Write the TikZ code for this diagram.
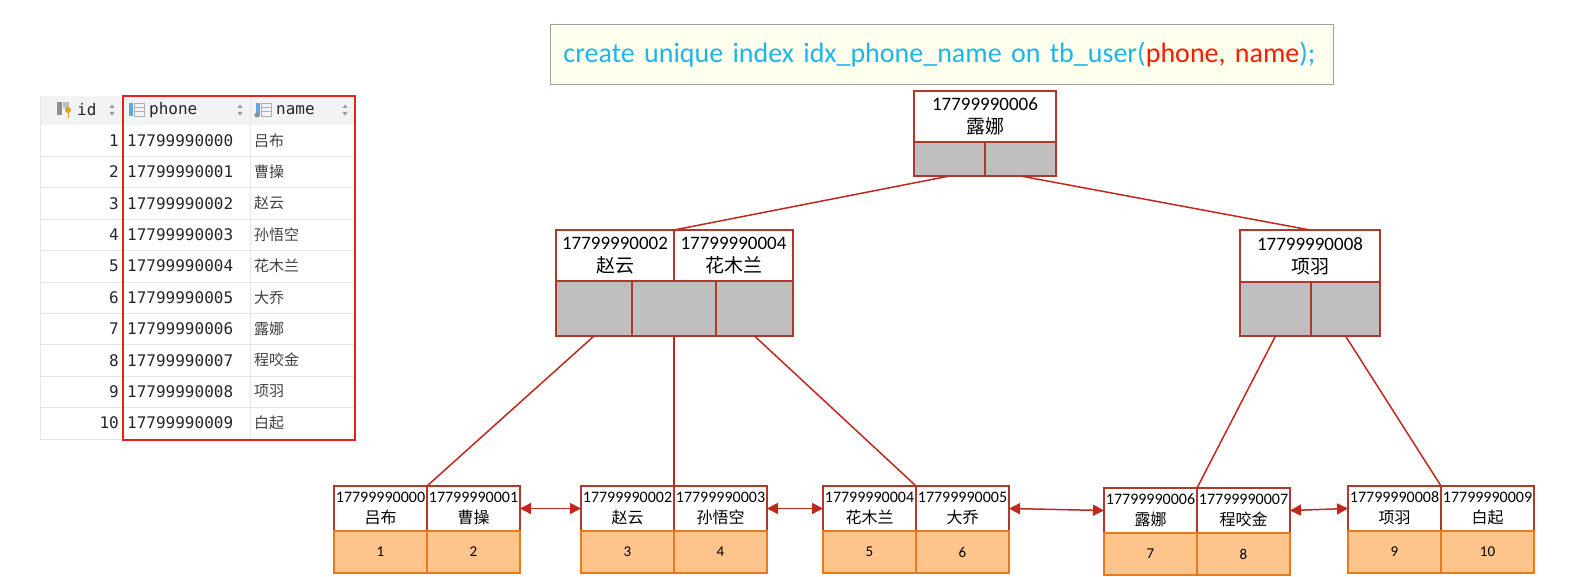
\documentclass[tikz,border=0pt]{standalone}
\usepackage{fontspec}
\setmainfont{Carlito}
\newfontfamily\cjk{Noto Sans CJK SC}
\newfontfamily\mono{DejaVu Sans Mono}
\usepackage{tikz}
\usetikzlibrary{arrows.meta, calc, positioning}

\definecolor{nodered}{HTML}{B0392E}
\definecolor{linkred}{HTML}{C0281E}
\definecolor{ptrgray}{HTML}{BFBFBF}
\definecolor{leaffill}{HTML}{FFC48C}
\definecolor{leafline}{HTML}{E97A1A}
\definecolor{sqlblue}{HTML}{1EB4EC}
\definecolor{sqlred}{HTML}{FF1A00}
\definecolor{sqlfill}{HTML}{FFFFEE}
\definecolor{sqlline}{HTML}{A0A0A0}
\definecolor{tabred}{HTML}{E8221B}
\definecolor{tabhead}{HTML}{F2F3F5}
\definecolor{tabline}{HTML}{E6E6E6}
\definecolor{iconblue}{HTML}{5AA9E0}
\definecolor{icongray}{HTML}{8A8F96}
\definecolor{iconkey}{HTML}{E0A020}

\begin{document}
\begin{tikzpicture}[x=1pt, y=-1pt,
	cell/.style={line width=1.6pt, inner sep=0pt, outer sep=0pt, align=center},
	keycell/.style={cell, draw=nodered, fill=white, minimum width=93, minimum height=45,
		font=\fontsize{16}{21}\selectfont},
	valcell/.style={cell, draw=leafline, fill=leaffill, minimum width=93, minimum height=42,
		font=\fontsize{15}{16}\selectfont},
	bigkey/.style={cell, draw=nodered, fill=white, minimum height=51,
		font=\fontsize{19}{23}\selectfont},
	ptrcell/.style={cell, draw=nodered, fill=ptrgray},
	link/.style={draw=linkred, line width=1.5pt},
	dlink/.style={link, {Triangle[length=11pt,width=11pt]}-{Triangle[length=11pt,width=11pt]}},
	rowline/.style={draw=tabline, line width=0.8pt},
	tabtext/.style={inner sep=0pt, font=\mono\fontsize{16}{18}\selectfont, text=black!85},
	sorttip/.style={fill=black!40}]
	\useasboundingbox (0,0) rectangle (1573,577);

	% table
	\fill[tabhead] (40,96) rectangle (355,125);
	\foreach \r in {1,...,9}
		\draw[rowline] (40,125+31.4*\r) -- (355,125+31.4*\r);
	\draw[rowline] (40,96) -- (40,439) -- (355,439);
	\draw[rowline] (250,96) -- (250,439);
	\fill[icongray] (57,102) rectangle (62,115);
	\fill[icongray!60] (63,102) rectangle (69,108);
	\fill[iconkey] (68,110) circle (3);
	\fill[iconkey] (67.5,112) rectangle (69,118);
	\fill[iconblue] (129,103) rectangle (133,116);
	\draw[icongray!70, line width=0.8pt] (134,103) rectangle (144,116) (134,107.3) -- (144,107.3) (134,111.6) -- (144,111.6);
	\fill[iconblue] (256,103) rectangle (260,116);
	\fill[icongray] (257,115) circle (2.5);
	\draw[icongray!70, line width=0.8pt] (261,103) rectangle (271,116) (261,107.3) -- (271,107.3) (261,111.6) -- (271,111.6);
	\node[tabtext, anchor=west] (hid) at (77,110) {id};
	\node[tabtext, anchor=west] (hphone) at (149,110) {phone};
	\node[tabtext, anchor=west] (hname) at (276,110) {name};
	\foreach \sx in {112,240,345} {
		\fill[sorttip] (\sx-2.5,108) -- (\sx+2.5,108) -- (\sx,104.5) -- cycle;
		\fill[sorttip] (\sx-2.5,112) -- (\sx+2.5,112) -- (\sx,115.5) -- cycle;
	}
	\foreach \i/\nm in {1/吕布,2/曹操,3/赵云,4/孙悟空,5/花木兰,6/大乔,7/露娜,8/程咬金,9/项羽,10/白起} {
		\pgfmathtruncatemacro{\k}{\i-1}
		\node[tabtext, anchor=east] (id\i) at (119,109+31.4*\i) {\i};
		\node[tabtext, anchor=west] (ph\i) at (127,109+31.4*\i) {1779999000\k};
		\node[tabtext, anchor=west, font=\cjk\fontsize{15}{18}\selectfont, text=black!75] (nm\i) at (254,109+31.4*\i) {\nm};
	}
	\draw[tabred, line width=2.5pt] (123,96) rectangle (355,440);

	% sql
	\node[draw=sqlline, fill=sqlfill, line width=0.8pt, anchor=north west, minimum height=60,
		text width=757pt, inner xsep=13pt, align=left, font=\fontsize{28}{30}\selectfont, text=sqlblue]
		(sql) at (550,24) {create unique index idx\_phone\_name on tb\_user(\textcolor{sqlred}{phone, name});};

	% root
	\node[bigkey, anchor=north west, minimum width=142] (rk) at (914,91) {17799990006\\{\cjk 露娜}};
	\node[ptrcell, anchor=north west, minimum width=71, minimum height=34] (rp1) at (914,142) {};
	\node[ptrcell, right=0pt of rp1, minimum width=71, minimum height=34] (rp2) {};

	% middle level
	\node[bigkey, anchor=north west, minimum width=118] (mla) at (556,230) {17799990002\\{\cjk 赵云}};
	\node[bigkey, right=0pt of mla, minimum width=119] (mlb) {17799990004\\{\cjk 花木兰}};
	\node[ptrcell, anchor=north west, minimum width=76, minimum height=55] (mlp1) at (556,281) {};
	\node[ptrcell, right=0pt of mlp1, minimum width=84, minimum height=55] (mlp2) {};
	\node[ptrcell, right=0pt of mlp2, minimum width=77, minimum height=55] (mlp3) {};

	\node[bigkey, anchor=north west, minimum width=140, minimum height=52] (mrk) at (1240,230) {17799990008\\{\cjk 项羽}};
	\node[ptrcell, anchor=north west, minimum width=71, minimum height=54] (mrp1) at (1240,282) {};
	\node[ptrcell, right=0pt of mrp1, minimum width=69, minimum height=54] (mrp2) {};

	% leaves
	\node[keycell, anchor=north west] (l1a) at (334,486) {17799990000\\{\cjk 吕布}};
	\node[keycell, right=0pt of l1a] (l1b) {17799990001\\{\cjk 曹操}};
	\node[valcell, below=0pt of l1a] (v1a) {1};
	\node[valcell, below=0pt of l1b] (v1b) {2};

	\node[keycell, anchor=north west] (l2a) at (581,486) {17799990002\\{\cjk 赵云}};
	\node[keycell, right=0pt of l2a] (l2b) {17799990003\\{\cjk 孙悟空}};
	\node[valcell, below=0pt of l2a] (v2a) {3};
	\node[valcell, below=0pt of l2b] (v2b) {4};

	\node[keycell, anchor=north west] (l3a) at (823,486) {17799990004\\{\cjk 花木兰}};
	\node[keycell, right=0pt of l3a] (l3b) {17799990005\\{\cjk 大乔}};
	\node[valcell, below=0pt of l3a] (v3a) {5};
	\node[valcell, below=0pt of l3b] (v3b) {6};

	\node[keycell, anchor=north west] (l4a) at (1104,488) {17799990006\\{\cjk 露娜}};
	\node[keycell, right=0pt of l4a] (l4b) {17799990007\\{\cjk 程咬金}};
	\node[valcell, below=0pt of l4a] (v4a) {7};
	\node[valcell, below=0pt of l4b] (v4b) {8};

	\node[keycell, anchor=north west] (l5a) at (1348,486) {17799990008\\{\cjk 项羽}};
	\node[keycell, right=0pt of l5a] (l5b) {17799990009\\{\cjk 白起}};
	\node[valcell, below=0pt of l5a] (v5a) {9};
	\node[valcell, below=0pt of l5b] (v5b) {10};

	% links
	\draw[link] (rp1.south) -- (mla.north east);
	\draw[link] (rp2.south) -- (mrk.north);
	\draw[link] (mlp1.south) -- (l1a.north east);
	\draw[link] (mlp2.south) -- (l2a.north east);
	\draw[link] (mlp3.south) -- (l3a.north east);
	\draw[link] (mrp1.south) -- (l4a.north east);
	\draw[link] (mrp2.south) -- (l5a.north east);

	\draw[dlink] (l1b.east) -- (l2a.west);
	\draw[dlink] (l2b.east) -- (l3a.west);
	\draw[dlink] (l3b.east) -- (l4a.west);
	\draw[dlink] (l4b.east) -- (l5a.west);
\end{tikzpicture}
\end{document}
